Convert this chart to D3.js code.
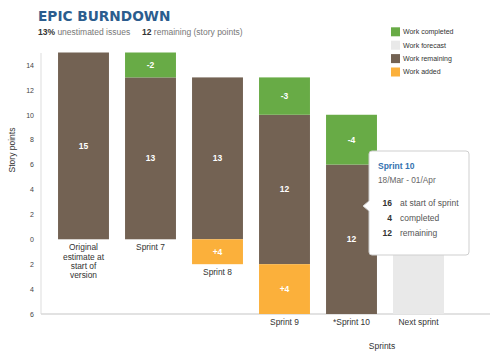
<!DOCTYPE html>
<html><head><meta charset="utf-8">
<script src="https://cdn.jsdelivr.net/npm/d3@7"></script>
<style>body{margin:0;background:#fff}svg{display:block}text{font-family:"Liberation Sans",Arial,sans-serif}</style>
</head><body><svg id="c" width="499" height="360"></svg>
<script>
const categories = ["Original estimate at start of version","Sprint 7","Sprint 8","Sprint 9","*Sprint 10","Next sprint"];
// segments [low, high] in story points (negative = below zero line)
const remaining = [[0,15],[0,13],[0,13],[-2,10],[-6,6],null];
const remainingLabels = ["15","13","13","12","12",""];
const completed = [null,[13,15],null,[10,13],[6,10],null];
const completedLabels = ["","-2","","-3","-4",""];
const added = [null,null,[-2,0],[-6,-2],null,null];
const addedLabels = ["","","+4","+4","",""];
const forecast = [null,null,null,null,null,[-6,6]];
const yTicks = [-6,-4,-2,0,2,4,6,8,10,12,14];
const legendItems = ["Work completed","Work forecast","Work remaining","Work added"];
const tooltipTitle = "Sprint 10";
const tooltipDates = "18/Mar - 01/Apr";
const tooltipRows = [["16","at start of sprint"],["4","completed"],["12","remaining"]];

const colors = {completed:"#68ab46", forecast:"#e9e9e9", remaining:"#736253", added:"#fbb03b"};
const svg = d3.select("#c");

const y = d3.scaleLinear().domain([-6,15]).range([314,52.5]);
const x = d3.scaleBand().domain(categories).range([50,452]).paddingInner(0.24).paddingOuter(0.12);

// title
svg.append("text").attr("x",38).attr("y",21).attr("font-family","DejaVu Sans").attr("font-weight","bold")
  .attr("font-size",13.7).attr("fill","#2b5d8e").style("font-family","'DejaVu Sans'").text("EPIC BURNDOWN");
const sub = svg.append("text").attr("x",38).attr("y",35).attr("font-size",8.5).attr("fill","#777");
sub.append("tspan").attr("font-weight","bold").attr("fill","#333").text("13%");
sub.append("tspan").text(" unestimated issues");
sub.append("tspan").attr("x",142).attr("font-weight","bold").attr("fill","#333").text("12");
sub.append("tspan").text(" remaining (story points)");

// axes lines
svg.append("line").attr("x1",41).attr("x2",41).attr("y1",53).attr("y2",314).attr("stroke","#ddd").attr("stroke-width",1);
svg.append("line").attr("x1",41).attr("x2",490).attr("y1",314).attr("y2",314).attr("stroke","#d8d8d8").attr("stroke-width",1.5);

// y axis ticks
const yAxis = d3.axisLeft(y).tickValues(yTicks).tickSize(0).tickPadding(0).tickFormat(d=>Math.abs(d));
const ga = svg.append("g").attr("transform","translate(34,0)").call(yAxis);
ga.select(".domain").remove();
ga.selectAll("text").attr("font-size",7).attr("fill","#444").attr("font-family","'Liberation Sans',Arial,sans-serif");

svg.append("text").attr("transform","translate(15,150) rotate(-90)").attr("text-anchor","middle")
  .attr("font-size",8.5).attr("fill","#333").text("Story points");
svg.append("text").attr("x",382).attr("y",349).attr("text-anchor","middle")
  .attr("font-size",8.5).attr("fill","#333").text("Sprints");

// bars
function drawSeries(arr, labels, color){
  const g = svg.append("g");
  categories.forEach((c,i)=>{
    const s = arr[i]; if(!s) return;
    g.append("rect").attr("x",x(c)).attr("width",x.bandwidth())
      .attr("y",y(s[1])).attr("height",y(s[0])-y(s[1])).attr("fill",color);
    if(labels && labels[i]){
      g.append("text").attr("x",x(c)+x.bandwidth()/2).attr("y",(y(s[0])+y(s[1]))/2).attr("dy","0.35em")
        .attr("text-anchor","middle").attr("font-size",8.5).attr("font-weight","bold").attr("fill","#fff").text(labels[i]);
    }
  });
}
drawSeries(forecast,null,colors.forecast);
drawSeries(remaining,remainingLabels,colors.remaining);
drawSeries(completed,completedLabels,colors.completed);
drawSeries(added,addedLabels,colors.added);

// category labels
categories.forEach((c,i)=>{
  const lows = [remaining[i],completed[i],added[i],forecast[i]].filter(Boolean).map(s=>s[0]);
  const low = d3.min(lows);
  const t = svg.append("text").attr("text-anchor","middle").attr("font-size",8.4).attr("fill","#333");
  const cx = x(c)+x.bandwidth()/2;
  const words = c.split(" ");
  let lines=[], cur="";
  const tmp = svg.append("text").attr("font-size",8.4);
  words.forEach(w=>{
    const test = cur? cur+" "+w : w;
    tmp.text(test);
    if(tmp.node().getComputedTextLength()>x.bandwidth() && cur){ lines.push(cur); cur=w; } else cur=test;
  });
  lines.push(cur); tmp.remove();
  lines.forEach((l,j)=>t.append("tspan").attr("x",cx).attr("y",y(low)+11+j*9.4).text(l));
});

// legend
const lg = svg.append("g");
const legColors=[colors.completed,colors.forecast,colors.remaining,colors.added];
legendItems.forEach((l,i)=>{
  lg.append("rect").attr("x",391).attr("y",27.3+i*13.4).attr("width",9).attr("height",9).attr("fill",legColors[i]);
  lg.append("text").attr("x",403).attr("y",31.8+i*13.4).attr("dy","0.35em").attr("font-size",7).attr("fill","#333").text(l);
});

// tooltip
const tg = svg.append("g");
const bx0=369,bx1=469,by0=151,by1=255,r=3,ay=206;
const p = `M${bx0+r},${by0} H${bx1-r} Q${bx1},${by0} ${bx1},${by0+r} V${by1-r} Q${bx1},${by1} ${bx1-r},${by1} H${bx0+r} Q${bx0},${by1} ${bx0},${by1-r} V${ay+5} L${bx0-6},${ay} L${bx0},${ay-5} V${by0+r} Q${bx0},${by0} ${bx0+r},${by0} Z`;
tg.append("path").attr("d",p).attr("fill","#fff").attr("stroke","#cfcfcf").attr("stroke-width",1);
tg.append("text").attr("x",378).attr("y",168.5).attr("font-size",8.5).attr("font-weight","bold").attr("fill","#3572b0").text(tooltipTitle);
tg.append("text").attr("x",378).attr("y",183).attr("font-size",8.3).attr("fill","#666").text(tooltipDates);
tooltipRows.forEach((row,i)=>{
  const yy = 206+i*15;
  tg.append("text").attr("x",392).attr("y",yy).attr("text-anchor","end").attr("font-size",8.5).attr("font-weight","bold").attr("fill","#333").text(row[0]);
  tg.append("text").attr("x",400).attr("y",yy).attr("font-size",8.5).attr("fill","#555").text(row[1]);
});
</script></body></html>
